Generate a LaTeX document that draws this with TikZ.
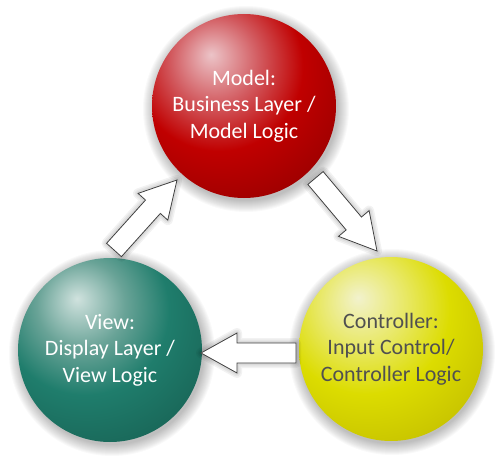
\documentclass[tikz,border=0pt]{standalone}
\usepackage{fontspec}
\setmainfont{Carlito}
\usetikzlibrary{calc}
\definecolor{redhi}{RGB}{236,196,200}
\definecolor{redmid}{RGB}{210,90,95}
\definecolor{redbase}{RGB}{192,0,0}
\definecolor{reddark}{RGB}{150,0,0}
\definecolor{greenhi}{RGB}{208,226,222}
\definecolor{greenmid}{RGB}{105,163,151}
\definecolor{greenbase}{RGB}{31,125,108}
\definecolor{greendark}{RGB}{24,98,84}
\definecolor{yellowhi}{RGB}{242,242,205}
\definecolor{yellowmid}{RGB}{232,232,100}
\definecolor{yellowbase}{RGB}{220,220,0}
\definecolor{yellowdark}{RGB}{195,190,0}
\definecolor{ctrltext}{RGB}{80,80,80}
\definecolor{arrowline}{RGB}{64,64,64}
\pgfdeclareradialshading{redball}{\pgfpoint{-9bp}{14bp}}{color(0bp)=(redhi); color(12bp)=(redmid); color(23bp)=(redbase); color(40bp)=(reddark); color(100bp)=(reddark)}
\pgfdeclareradialshading{greenball}{\pgfpoint{-9bp}{14bp}}{color(0bp)=(greenhi); color(12bp)=(greenmid); color(23bp)=(greenbase); color(40bp)=(greendark); color(100bp)=(greendark)}
\pgfdeclareradialshading{yellowball}{\pgfpoint{-9bp}{14bp}}{color(0bp)=(yellowhi); color(12bp)=(yellowmid); color(23bp)=(yellowbase); color(40bp)=(yellowdark); color(100bp)=(yellowdark)}
\tikzset{
  sphere/.style={circle, minimum size=184pt, inner sep=0pt, align=center,
    font=\fontsize{22}{26.5}\selectfont},
  arrowbody/.style={fill=white, draw=arrowline, line width=0.8pt, line join=miter},
  arrowglow/.style={draw=black, opacity=0.05, line join=round}
}
\newcommand\arrowpath[2]{($(#1)!10pt!90:(#2)$) -- ($(#2)!36pt!(#1)!10pt!90:(#2)$) -- ($(#2)!36pt!(#1)!20pt!90:(#2)$) -- (#2) -- ($(#2)!36pt!(#1)!20pt!-90:(#2)$) -- ($(#2)!36pt!(#1)!10pt!-90:(#2)$) -- ($(#1)!10pt!-90:(#2)$) -- cycle}
\newcommand\blockarrow[2]{%
  \foreach \w in {10,7,4}{\draw[arrowglow, line width=\w pt] \arrowpath{#1}{#2};}
  \draw[arrowbody] \arrowpath{#1}{#2};}
\begin{document}
\begin{tikzpicture}[x=1pt,y=-1pt]
\useasboundingbox (0,0) rectangle (500,465);
% soft shadows around spheres
\foreach \cx/\cy in {244/106,110/350,390/349}{
  \foreach \i in {1,...,12}{\fill[black,opacity=0.022] (\cx+2,\cy+3) circle[radius=91pt+\i pt];}
}
\node[sphere, shading=redball, text=white] (model) at (244,106) {Model:\\Business Layer /\\Model Logic};
\node[sphere, shading=greenball, text=white] (view) at (110,350) {View:\\Display Layer /\\View Logic};
\node[sphere, shading=yellowball, text=ctrltext] (ctrl) at (391,349) {Controller:\\Input Control/\\Controller Logic};
% arrows
\coordinate (a1t) at (114,250); \coordinate (a1h) at (177,180);
\coordinate (a2t) at (315.5,178); \coordinate (a2h) at (377,251);
\coordinate (a3t) at (296,353); \coordinate (a3h) at (201,353);
\blockarrow{a1t}{a1h}
\blockarrow{a2t}{a2h}
\blockarrow{a3t}{a3h}
\end{tikzpicture}
\end{document}
